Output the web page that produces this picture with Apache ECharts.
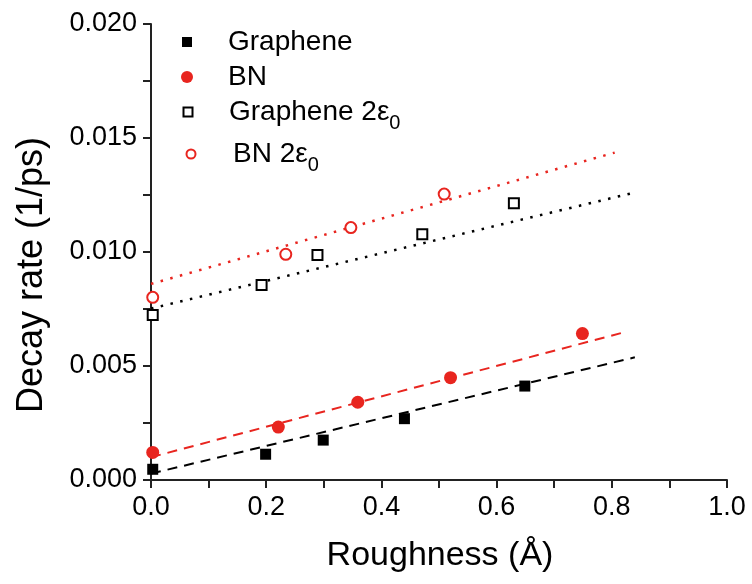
<!DOCTYPE html>
<html>
<head>
<meta charset="utf-8">
<script src="https://cdn.jsdelivr.net/npm/echarts@6/dist/echarts.min.js"></script>
<style>
  html, body { margin: 0; padding: 0; background: #fff; }
  #chart { width: 752px; height: 584px; }
</style>
</head>
<body>
<div id="chart"></div>
<script>
// Measured decay rates versus surface roughness
const roughGraphene = [0.003, 0.199, 0.299, 0.440, 0.649];
const rateGraphene  = [0.00047, 0.00113, 0.00175, 0.00269, 0.00412];

const roughBN = [0.003, 0.221, 0.359, 0.520, 0.749];
const rateBN  = [0.00121, 0.00232, 0.00341, 0.00449, 0.00642];

const roughGraphene2e = [0.003, 0.192, 0.289, 0.471, 0.630];
const rateGraphene2e  = [0.00724, 0.00855, 0.00987, 0.01078, 0.01214];

const roughBN2e = [0.003, 0.234, 0.347, 0.509];
const rateBN2e  = [0.00801, 0.00990, 0.01107, 0.01254];

// Linear fits: start/end roughness and the fitted rate there
const fitGrapheneX   = [0, 0.84];
const fitGrapheneY   = [0.00028, 0.00538];
const fitBNX         = [0, 0.82];
const fitBNY         = [0.00100, 0.00647];
const fitGraphene2eX = [0, 0.835];
const fitGraphene2eY = [0.00752, 0.01258];
const fitBN2eX       = [0, 0.805];
const fitBN2eY       = [0.00860, 0.01436];

// Tick labels
const xTickLabels = ['0.0', '0.2', '0.4', '0.6', '0.8', '1.0'];
const yTickLabels = ['0.000', '0.005', '0.010', '0.015', '0.020'];

const FONT = '"Liberation Sans", Arial, Helvetica, sans-serif';
const RED = '#e8251f';
const BLACK = '#000000';

const pairs = (xs, ys) => xs.map((x, i) => [x, ys[i]]);

const chart = echarts.init(document.getElementById('chart'), null, { renderer: 'canvas' });

const legendRich = {
  sub: { fontSize: 20, fontFamily: FONT, color: BLACK, padding: [22, 0, 0, 0] }
};
const legendLabel = {
  'Graphene': 'Graphene',
  'BN': 'BN',
  'Graphene 2ε0': 'Graphene 2ε{sub|0}',
  'BN 2ε0': 'BN 2ε{sub|0}'
};
// One legend entry per row: marker centred at cx, text starting at tx
function legendAt(name, cx, top, size, tx) {
  const left = cx - size / 2;
  return {
    data: [name],
    left: left,
    top: top,
    orient: 'vertical',
    itemWidth: size,
    itemHeight: size,
    padding: 0,
    selectedMode: false,
    formatter: n => legendLabel[n],
    textStyle: {
      fontSize: 28, fontFamily: FONT, color: BLACK,
      padding: [0, 0, 0, tx - left - size - 5],
      rich: legendRich
    }
  };
}

const option = {
  animation: false,
  backgroundColor: '#fff',
  grid: { left: 151, right: 25, top: 24, bottom: 104, containLabel: false },
  legend: [
    legendAt('Graphene', 187, 28, 10, 228),
    legendAt('BN', 187, 63, 12, 228),
    legendAt('Graphene 2ε0', 187, 98, 9, 228),
    legendAt('BN 2ε0', 190, 140, 9, 232)
  ],
  xAxis: {
    type: 'value',
    min: 0, max: 1.0, interval: 0.2,
    axisLine: { show: true, onZero: false, lineStyle: { color: '#222', width: 2 } },
    axisTick: { show: true, inside: false, length: 8, lineStyle: { color: '#222', width: 2 } },
    minorTick: { show: true, splitNumber: 2, length: 8, lineStyle: { color: '#222', width: 2 } },
    splitLine: { show: false },
    axisLabel: {
      margin: 14,
      fontSize: 27, fontFamily: FONT, color: BLACK,
      formatter: v => xTickLabels[Math.round(v / 0.2)]
    }
  },
  yAxis: {
    type: 'value',
    min: 0, max: 0.020, interval: 0.005,
    axisLine: { show: true, onZero: false, lineStyle: { color: '#222', width: 2 } },
    axisTick: { show: true, inside: false, length: 8, lineStyle: { color: '#222', width: 2 } },
    minorTick: { show: true, splitNumber: 2, length: 8, lineStyle: { color: '#222', width: 2 } },
    splitLine: { show: false },
    axisLabel: {
      margin: 14,
      fontSize: 27, fontFamily: FONT, color: BLACK,
      formatter: v => yTickLabels[Math.round(v / 0.005)]
    }
  },
  graphic: [
    {
      type: 'text',
      x: 32, y: 275,
      rotation: Math.PI / 2,
      style: {
        text: 'Decay rate (1/ps)',
        fontSize: 36, fontFamily: FONT, fill: BLACK,
        align: 'center', verticalAlign: 'middle'
      }
    },
    {
      type: 'text',
      x: 440, y: 556,
      style: {
        text: 'Roughness (Å)',
        fontSize: 34, fontFamily: FONT, fill: BLACK,
        align: 'center', verticalAlign: 'middle'
      }
    }
  ],
  series: [
    {
      name: 'fit Graphene', type: 'line', data: pairs(fitGrapheneX, fitGrapheneY),
      showSymbol: false, silent: true, z: 1,
      lineStyle: { color: BLACK, width: 2, type: [10, 7] }
    },
    {
      name: 'fit BN', type: 'line', data: pairs(fitBNX, fitBNY),
      showSymbol: false, silent: true, z: 1,
      lineStyle: { color: RED, width: 2, type: [10, 7] }
    },
    {
      name: 'fit Graphene 2ε0', type: 'line', data: pairs(fitGraphene2eX, fitGraphene2eY),
      showSymbol: false, silent: true, z: 1,
      lineStyle: { color: BLACK, width: 2.5, type: [2.5, 7.5] }
    },
    {
      name: 'fit BN 2ε0', type: 'line', data: pairs(fitBN2eX, fitBN2eY),
      showSymbol: false, silent: true, z: 1,
      lineStyle: { color: RED, width: 2.5, type: [2.5, 7.5] }
    },
    {
      name: 'Graphene', type: 'scatter', data: pairs(roughGraphene, rateGraphene),
      symbol: 'rect', symbolSize: 11, z: 3,
      itemStyle: { color: BLACK, opacity: 1 }
    },
    {
      name: 'BN', type: 'scatter', data: pairs(roughBN, rateBN),
      symbol: 'circle', symbolSize: 13, z: 3,
      itemStyle: { color: RED, opacity: 1 }
    },
    {
      name: 'Graphene 2ε0', type: 'scatter', data: pairs(roughGraphene2e, rateGraphene2e),
      symbol: 'rect', symbolSize: 10, z: 3,
      itemStyle: { color: '#fff', borderColor: BLACK, borderWidth: 2, opacity: 1 }
    },
    {
      name: 'BN 2ε0', type: 'scatter', data: pairs(roughBN2e, rateBN2e),
      symbol: 'circle', symbolSize: 11, z: 3,
      itemStyle: { color: '#fff', borderColor: RED, borderWidth: 2, opacity: 1 }
    }
  ]
};

chart.setOption(option);
</script>
</body>
</html>
